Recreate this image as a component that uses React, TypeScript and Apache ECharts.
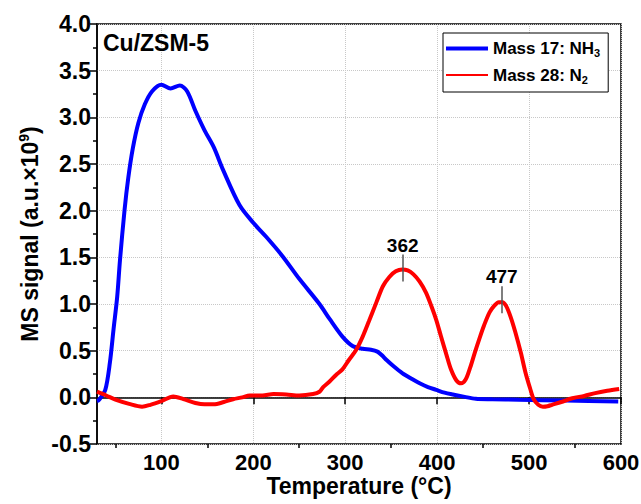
import React, { useEffect, useRef } from "react";
import * as echarts from "echarts";

const nh3X = [30, 32, 39, 44, 48, 52, 55, 60, 64, 69, 75, 82, 90, 100, 110, 120, 128, 137, 147, 157, 167, 185, 200, 214, 232, 250, 272, 283, 297, 308, 319, 328, 335, 340, 345, 353, 362, 372, 381, 390, 399, 408, 417, 430, 442, 460, 489, 540, 597];
const nh3Y = [-0.04, -0.03, 0.08, 0.37, 0.73, 1.08, 1.47, 2.01, 2.35, 2.67, 2.94, 3.14, 3.28, 3.35, 3.31, 3.34, 3.28, 3.07, 2.86, 2.68, 2.44, 2.06, 1.87, 1.72, 1.51, 1.27, 1.0, 0.84, 0.65, 0.55, 0.52, 0.51, 0.49, 0.45, 0.4, 0.33, 0.26, 0.2, 0.15, 0.11, 0.08, 0.05, 0.03, 0.005, -0.015, -0.02, -0.026, -0.035, -0.044];

const n2X = [30, 40, 50, 65, 79, 88, 100, 113, 124, 137, 147, 157, 168, 178, 188, 196, 210, 222, 236, 250, 265, 272, 276, 283, 290, 297, 304, 312, 319, 326, 334, 341, 348, 355, 362, 368, 374, 381, 388, 394, 399, 404, 410, 415, 421, 426, 431, 436, 441, 446, 451, 457, 462, 467, 471, 475, 480, 485, 491, 496, 501, 505, 510, 515, 520, 525, 535, 547, 560, 572, 585, 598];
const n2Y = [0.06, 0.02, -0.025, -0.07, -0.1, -0.08, -0.04, 0.01, -0.02, -0.06, -0.075, -0.075, -0.05, -0.02, 0.0, 0.02, 0.02, 0.035, 0.03, 0.02, 0.035, 0.06, 0.11, 0.17, 0.24, 0.3, 0.4, 0.51, 0.65, 0.82, 1.02, 1.19, 1.29, 1.35, 1.37, 1.36, 1.32, 1.24, 1.12, 0.97, 0.83, 0.66, 0.46, 0.3, 0.18, 0.15, 0.19, 0.32, 0.48, 0.63, 0.77, 0.91, 0.98, 1.02, 1.02, 0.98, 0.86, 0.7, 0.48, 0.27, 0.1, -0.02, -0.08, -0.1, -0.095, -0.08, -0.05, -0.01, 0.015, 0.045, 0.07, 0.09];

const xMajorTicks = [100, 200, 300, 400, 500, 600];
const xMinorTicks = [50, 150, 250, 350, 450, 550];

const peakLabels = ["362", "477"];
const peakX = [362.5, 470.3];
const peakLow = [1.24, 0.9];
const peakHigh = [1.53, 1.19];

const FONT = "'Liberation Sans', Arial, sans-serif";

export default function App() {
  const ref = useRef<HTMLDivElement>(null);
  useEffect(() => {
    if (!ref.current) return;
    const chart = echarts.init(ref.current, null, { renderer: "svg" });
    const gridLine = { show: true, lineStyle: { color: "#c8c8c8", type: "dotted", width: 1 } };
    const option = {
      animation: false,
      textStyle: { fontFamily: FONT },
      grid: {
        left: 97,
        right: 20,
        top: 24,
        bottom: 60,
        outerBoundsMode: "none",
        containLabel: false,
        show: true,
        borderColor: "#000",
        borderWidth: 1.5,
      },
      title: {
        text: "Cu/ZSM-5",
        left: 103,
        top: 31,
        padding: 0,
        textStyle: { fontFamily: FONT, fontSize: 23, fontWeight: "bold", color: "#000" },
      },
      legend: {
        left: 443,
        top: 33,
        orient: "vertical",
        backgroundColor: "#fff",
        borderColor: "#000",
        borderWidth: 1,
        padding: [7, 8, 7, 1],
        itemGap: 8,
        itemWidth: 42,
        itemHeight: 14,
        data: [
          { name: "nh3", lineStyle: { width: 4 }, itemStyle: { opacity: 0 } },
          { name: "n2", lineStyle: { width: 2 }, itemStyle: { opacity: 0 } },
        ],
        formatter: (name: string) =>
          name === "nh3" ? "{b|Mass 17: NH}{s|3}" : "{b|Mass 28: N}{s|2}",
        textStyle: {
          rich: {
            b: { fontFamily: FONT, fontSize: 17, fontWeight: "bold", color: "#000" },
            s: { fontFamily: FONT, fontSize: 11, fontWeight: "bold", color: "#000", padding: [9, 0, 0, 0] },
          },
        },
      },
      xAxis: [
        {
          type: "value",
          min: 30,
          max: 600,
          name: "Temperature (°C)",
          nameLocation: "middle",
          nameGap: 30,
          nameMoveOverlap: false,
          nameTextStyle: { fontFamily: FONT, fontSize: 23, fontWeight: "bold", color: "#000" },
          axisLine: { show: true, lineStyle: { color: "#000", width: 1.5 } },
          axisTick: { show: true, customValues: xMajorTicks, length: 7, lineStyle: { color: "#000", width: 1.5 } },
          axisLabel: { customValues: xMajorTicks, margin: 7, fontFamily: FONT, fontSize: 22, fontWeight: "bold", color: "#000" },
          splitLine: gridLine,
        },
        {
          type: "value",
          min: 30,
          max: 600,
          position: "bottom",
          axisLine: { show: false },
          axisTick: { show: true, customValues: xMinorTicks, length: 4, lineStyle: { color: "#000", width: 1.5 } },
          axisLabel: { show: false },
          splitLine: { show: false },
        },
      ],
      yAxis: {
        type: "value",
        min: -0.5,
        max: 4,
        interval: 0.5,
        name: "{a|MS signal (a.u.×10}{s|9}{a|)}",
        nameLocation: "middle",
        nameGap: 54,
        nameMoveOverlap: false,
        nameTextStyle: {
          rich: {
            a: { fontFamily: FONT, fontSize: 23, fontWeight: "bold", color: "#000" },
            s: { fontFamily: FONT, fontSize: 14, fontWeight: "bold", color: "#000", padding: [0, 0, 12, 0] },
          },
        },
        axisLine: { show: true, lineStyle: { color: "#000", width: 1.5 } },
        axisTick: { show: true, length: 7, lineStyle: { color: "#000", width: 1.5 } },
        minorTick: { show: true, splitNumber: 2, length: 4, lineStyle: { color: "#000", width: 1.5 } },
        axisLabel: {
          margin: 6,
          fontFamily: FONT,
          fontSize: 23,
          fontWeight: "bold",
          color: "#000",
          formatter: (v: number) => v.toFixed(1),
        },
        splitLine: gridLine,
      },
      series: [
        {
          name: "nh3",
          type: "line",
          symbol: "none",
          smooth: 0.3,
          lineStyle: { color: "#0000ff", width: 4 },
          itemStyle: { color: "#0000ff" },
          data: nh3X.map((x, i) => [x, nh3Y[i]]),
          z: 3,
        },
        {
          name: "n2",
          type: "line",
          symbol: "none",
          smooth: 0.3,
          lineStyle: { color: "#ff0000", width: 4 },
          itemStyle: { color: "#ff0000" },
          data: n2X.map((x, i) => [x, n2Y[i]]),
          z: 4,
          markLine: {
            silent: true,
            symbol: "none",
            lineStyle: { color: "#555", width: 1.5, type: "solid" },
            label: {
              show: true,
              position: "end",
              distance: 0,
              fontFamily: FONT,
              fontSize: 19,
              fontWeight: "bold",
              color: "#000",
            },
            data: peakLabels.map((lab, i) => [
              { coord: [peakX[i], peakLow[i]], label: { formatter: lab } },
              { coord: [peakX[i], peakHigh[i]] },
            ]),
          },
        },
      ],
    };
    chart.setOption(option as any);
    return () => chart.dispose();
  }, []);
  return <div ref={ref} style={{ width: 641, height: 504, position: "absolute", left: 0, top: 0 }} />;
}
